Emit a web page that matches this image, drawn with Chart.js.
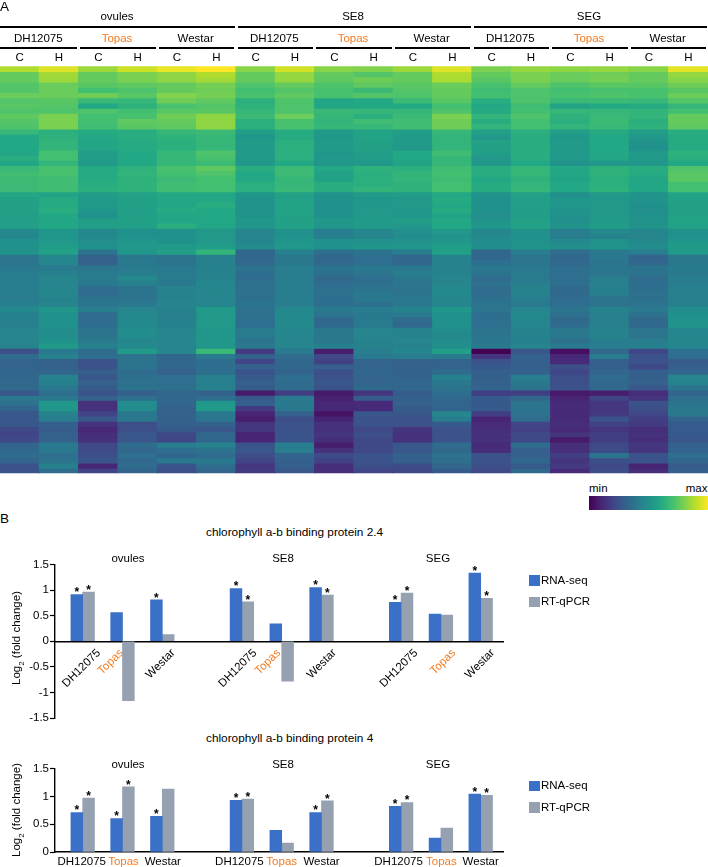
<!DOCTYPE html>
<html lang="en">
<head>
<meta charset="UTF-8" />
<title>Heatmap and fold change</title>
<script src="https://cdn.jsdelivr.net/npm/chart.js@4/dist/chart.umd.min.js"></script>
<style>
  html, body { margin: 0; padding: 0; background: #fff; }
  body { position: relative; width: 708px; height: 867px; overflow: hidden; font-family: "Liberation Sans", Arial, sans-serif; color: #000; }
  canvas { position: absolute; }
  .txt { position: absolute; white-space: nowrap; font-size: 11.5px; line-height: 1; }
  .rule { position: absolute; background: #000; height: 1.8px; }
  .swatch { position: absolute; width: 11px; height: 10.5px; }
  sub { font-size: 8px; line-height: 0; }
</style>
</head>
<body>
<canvas id="heat" style="left:0;top:0"></canvas>
<canvas id="bars1" style="left:0;top:556px"></canvas>
<canvas id="bars2" style="left:0;top:760px"></canvas>

<script>
const tissues = ["ovules", "SE8", "SEG"];
const cultivars = ["DH12075", "Topas", "Westar"];
const treatments = ["C", "H"];
const seriesNames = ["RNA-seq", "RT-qPCR"];
const titles = ["chlorophyll a-b binding protein 2.4", "chlorophyll a-b binding protein 4"];

// chlorophyll a-b binding protein 2.4, ovules / SE8 / SEG
const rnaSeq1 = [0.91, 0.56, 0.81, 1.03, 0.34, 1.05, 0.76, 0.53, 1.33];
const qpcr1 = [0.96, -1.16, 0.13, 0.77, -0.78, 0.90, 0.94, 0.51, 0.84];
const rnaStars1 = [1, 0, 1, 1, 0, 1, 1, 0, 1];
const qpcrStars1 = [1, 0, 0, 1, 0, 1, 1, 0, 1];

// chlorophyll a-b binding protein 4
const rnaSeq2 = [0.71, 0.60, 0.64, 0.93, 0.39, 0.71, 0.82, 0.25, 1.04];
const qpcr2 = [0.97, 1.17, 1.13, 0.95, 0.16, 0.92, 0.89, 0.43, 1.02];
const rnaStars2 = [1, 1, 1, 1, 0, 1, 1, 0, 1];
const qpcrStars2 = [1, 1, 0, 1, 0, 1, 1, 0, 1];

// heatmap, one row per gene, percent of the min-max range, same column order as the header
const heatRows = [
  [88,95,85,92,97,100,82,93,82,81,85,95,80,84,83,84,82,96],
  [76,86,76,80,83,88,76,84,76,73,76,88,76,80,77,78,76,84],
  [76,85,76,80,83,86,76,84,75,78,76,87,74,80,77,79,76,82],
  [73,77,74,75,76,79,72,76,72,75,74,77,71,76,72,74,74,78],
  [73,77,70,72,76,78,70,73,71,68,73,76,69,72,70,71,71,74],
  [77,77,78,74,81,79,71,75,71,73,72,76,70,72,71,72,71,77],
  [73,74,67,66,78,75,63,72,59,60,68,74,62,72,67,68,67,73],
  [74,73,60,64,71,73,64,72,59,60,60,70,60,69,58,60,61,66],
  [72,72,72,70,74,74,66,72,67,66,66,72,61,70,66,66,65,70],
  [75,80,70,71,78,83,68,77,66,63,68,80,65,72,64,67,65,76],
  [73,80,70,75,76,83,63,71,65,69,69,78,62,70,63,68,63,76],
  [72,80,69,74,75,83,63,71,66,66,69,78,65,70,65,67,64,75],
  [66,63,61,62,66,68,55,61,54,58,55,66,56,63,55,61,55,62],
  [60,64,60,62,64,66,52,61,53,58,54,65,53,62,53,60,53,61],
  [60,65,59,61,63,66,54,63,54,57,54,65,57,62,54,60,51,61],
  [60,65,59,61,63,66,54,63,54,57,53,65,57,62,54,60,50,61],
  [59,70,55,60,66,72,54,63,52,55,60,69,55,62,54,60,54,64],
  [62,70,55,60,66,71,53,63,53,55,60,66,53,62,53,59,53,63],
  [59,65,54,60,66,68,53,60,52,53,58,66,53,60,51,53,53,60],
  [67,71,61,64,71,75,62,68,60,64,63,69,62,66,60,64,62,72],
  [69,71,61,65,70,72,60,68,57,63,65,70,62,66,59,64,61,74],
  [68,69,61,64,68,70,60,66,57,63,65,69,60,64,58,63,59,74],
  [68,69,62,64,69,70,63,66,62,63,64,70,61,65,60,63,59,70],
  [68,69,63,64,69,70,63,67,62,65,64,70,61,66,60,64,60,70],
  [59,58,55,57,60,60,52,57,50,54,55,60,51,57,49,53,51,58],
  [57,61,54,57,60,60,51,57,50,52,53,61,50,56,52,53,51,57],
  [57,61,53,57,59,62,51,58,50,53,53,60,50,56,52,53,50,56],
  [57,62,52,56,61,60,51,58,50,53,52,61,50,56,51,53,49,56],
  [56,60,50,56,59,60,51,57,50,53,52,58,49,55,50,53,50,57],
  [56,59,55,57,59,60,52,57,53,54,55,60,51,57,49,54,51,58],
  [56,60,56,56,63,59,52,57,52,54,53,60,52,57,51,55,51,57],
  [47,52,47,50,50,53,45,50,42,46,49,53,46,50,42,47,46,50],
  [46,52,47,50,50,53,45,50,43,45,48,51,47,50,42,44,45,50],
  [50,53,49,52,50,53,46,52,50,50,51,52,48,50,47,50,47,52],
  [50,55,50,53,54,55,48,53,50,52,52,55,49,51,49,51,48,54],
  [51,57,38,52,56,65,33,43,36,38,42,56,33,42,35,40,42,54],
  [39,46,31,40,38,43,33,40,33,36,33,44,33,39,33,40,32,40],
  [39,46,31,41,38,43,34,40,34,36,33,44,36,39,34,39,33,40],
  [40,41,39,41,41,43,38,42,38,40,40,44,40,41,36,39,38,41],
  [42,43,41,42,41,44,36,42,37,39,42,44,38,41,36,39,38,41],
  [42,45,41,47,41,44,35,42,34,36,40,45,35,41,36,42,35,42],
  [42,45,41,43,41,46,37,42,35,36,39,45,37,42,36,43,36,42],
  [42,46,35,38,44,46,37,42,37,38,38,47,35,44,34,43,36,43],
  [42,46,35,38,44,46,37,42,37,40,38,47,35,44,34,42,37,43],
  [42,44,38,38,44,45,37,42,36,40,40,46,37,42,35,38,37,43],
  [43,45,39,41,45,46,38,42,36,37,40,46,38,41,36,38,38,43],
  [47,52,42,45,44,54,37,47,41,42,44,52,39,45,39,44,41,48],
  [43,50,35,47,43,53,37,47,38,41,41,50,36,47,37,43,37,50],
  [43,50,35,47,43,53,36,47,33,41,35,50,36,46,34,43,34,51],
  [43,50,36,47,43,53,36,47,34,41,34,50,36,46,35,43,34,51],
  [45,48,38,48,46,52,41,46,40,45,44,48,38,44,40,44,39,46],
  [45,49,38,48,45,52,41,46,40,45,44,47,39,44,40,44,38,46],
  [45,50,41,46,46,53,38,45,40,44,45,48,39,43,37,42,42,46],
  [44,54,44,47,45,52,40,45,43,44,44,49,41,45,41,42,43,46],
  [24,41,35,54,46,67,17,41,8,42,46,56,0,27,4,34,21,36],
  [35,44,36,38,33,41,31,35,22,41,42,41,15,31,11,42,25,36],
  [32,31,26,38,33,36,21,33,19,32,31,32,25,30,12,30,25,29],
  [32,31,26,38,33,36,31,33,30,32,31,32,28,30,24,30,22,30],
  [33,33,30,35,31,36,26,32,24,33,32,35,30,31,21,33,30,33],
  [33,44,27,36,36,43,28,36,25,32,32,43,30,42,24,35,30,45],
  [34,43,31,37,36,43,30,35,27,32,33,40,31,40,24,34,31,44],
  [34,40,29,38,37,43,29,35,26,34,33,38,32,38,25,34,27,39],
  [27,36,26,30,33,31,7,18,7,15,29,36,18,18,7,8,13,32],
  [40,40,31,37,33,36,28,41,9,29,30,34,28,33,10,20,15,36],
  [37,52,14,48,33,52,30,41,11,12,31,32,28,38,12,16,25,38],
  [32,52,14,48,31,54,17,40,11,12,29,32,28,38,12,16,24,40],
  [27,44,20,40,31,40,10,31,5,27,27,46,18,37,12,17,21,40],
  [27,42,27,40,31,39,8,24,10,26,26,42,10,35,12,26,18,32],
  [27,30,14,24,30,31,15,25,14,25,25,28,12,20,13,19,17,28],
  [22,29,11,24,28,27,16,25,14,22,15,25,13,19,12,16,13,28],
  [20,31,13,27,22,33,10,26,15,24,14,25,14,22,15,18,14,28],
  [22,31,14,27,21,33,10,26,13,22,14,25,14,22,7,18,13,27],
  [32,41,22,35,42,44,26,42,8,22,27,35,12,35,13,22,16,30],
  [33,40,23,33,36,38,27,42,14,22,27,34,13,30,13,23,15,32],
  [35,36,24,36,33,35,24,32,23,26,31,37,26,31,18,38,26,36],
  [32,38,26,34,40,40,20,30,19,26,30,36,25,33,15,24,25,33],
  [26,43,11,35,26,36,16,30,13,24,23,33,24,28,17,22,10,29],
  [26,35,20,32,24,32,17,27,13,20,22,28,22,34,12,24,13,30]
];

const viridis = ["#440154","#482475","#414487","#355f8d","#2a788e","#21918c","#22a884","#43bf71","#7ad151","#bddf26","#fde725"];
const blue = "#3a70c8";
const grey = "#95a0b0";
const orange = "#f47b20";

Chart.defaults.font.family = '"Liberation Sans", Arial, sans-serif';
Chart.defaults.font.size = 11.5;
Chart.defaults.color = "#000";
Chart.defaults.animation = false;
Chart.defaults.responsive = false;
Chart.defaults.plugins.legend.display = false;
Chart.defaults.plugins.tooltip.enabled = false;

function labelColor(name) {
  return name === "Topas" ? orange : "#000";
}

function text(html, x, y, opts = {}) {
  const el = document.createElement("div");
  el.className = "txt";
  el.innerHTML = html;
  el.style.left = x + "px";
  el.style.top = y + "px";
  if (opts.color) el.style.color = opts.color;
  if (opts.size) el.style.fontSize = opts.size + "px";
  const shift = opts.align === "left" ? "0" : opts.align === "right" ? "-100%" : "-50%";
  el.style.transform = `translate(${shift}, -50%)` + (opts.rotate ? ` rotate(${opts.rotate}deg)` : "");
  document.body.appendChild(el);
}

function rule(x1, x2, y) {
  const el = document.createElement("div");
  el.className = "rule";
  el.style.left = x1 + "px";
  el.style.width = (x2 - x1) + "px";
  el.style.top = y + "px";
  document.body.appendChild(el);
}

function viridisColor(pct) {
  const t = pct / 100 * (viridis.length - 1);
  const i = Math.min(Math.floor(t), viridis.length - 2);
  const f = t - i;
  const a = viridis[i], b = viridis[i + 1];
  const ch = (s, p) => parseInt(s.substr(p, 2), 16);
  const mix = p => Math.round(ch(a, p) + (ch(b, p) - ch(a, p)) * f);
  return `rgb(${mix(1)},${mix(3)},${mix(5)})`;
}

// ---- panel A ----
const heatLabels = [];
tissues.forEach(() => cultivars.forEach(() => treatments.forEach(t => heatLabels.push(t))));
const colW = 708 / heatLabels.length;

const heatCanvas = document.getElementById("heat");
heatCanvas.width = 708;
heatCanvas.height = 474;

new Chart(heatCanvas, {
  type: "bar",
  data: {
    labels: heatLabels,
    datasets: heatRows.map(row => ({
      data: row.map(() => 1),
      backgroundColor: row.map(viridisColor),
      borderWidth: 0,
      barPercentage: 1,
      categoryPercentage: 1,
      inflateAmount: 0.6
    }))
  },
  options: {
    layout: { padding: { top: 50, bottom: 0.7, left: 0, right: 0 } },
    scales: {
      x: {
        position: "top",
        stacked: true,
        grid: { display: false, drawTicks: false },
        border: { display: false },
        ticks: { padding: 1.6, maxRotation: 0, autoSkip: false },
        afterFit: s => { s.height = 16.3; }
      },
      y: { display: false, stacked: true, reverse: true, min: 0, max: heatRows.length }
    }
  }
});

text("A", 0, 6.5, { align: "left", size: 13.5 });
tissues.forEach((tissue, t) => {
  const start = t * 6 * colW;
  text(tissue, start + 3 * colW - 1, 16.5);
  rule(start + (t ? 1.5 : 0), start + 6 * colW - 1, 26.2);
  cultivars.forEach((name, c) => {
    const left = start + c * 2 * colW;
    text(name, left + colW - 1, 38.5, { color: labelColor(name) });
    rule(left + (t || c ? 1.5 : 0), left + 2 * colW - 1.5, 47.2);
  });
});

// colour scale
const scaleBar = document.createElement("div");
scaleBar.style.cssText = "position:absolute;left:589px;top:496px;width:119px;height:13.5px;background:linear-gradient(to right," + viridis.join(",") + ")";
document.body.appendChild(scaleBar);
text("min", 589, 488.5, { align: "left" });
text("max", 707.5, 488.5, { align: "right" });

// ---- panel B ----
text("B", 0, 518.5, { align: "left", size: 13.5 });

const slots = [];
tissues.forEach((t, i) => cultivars.forEach((c, j) => slots.push(i * 4 + j + 1)));
const slotLabels = [];
tissues.forEach(() => cultivars.forEach(c => slotLabels.push(c)));

const starPlugin = {
  id: "stars",
  afterDatasetsDraw(chart) {
    const { ctx } = chart;
    ctx.save();
    ctx.fillStyle = "#000";
    ctx.font = 'bold 12px "Liberation Sans", Arial, sans-serif';
    ctx.textAlign = "center";
    ctx.textBaseline = "alphabetic";
    chart.data.datasets.forEach((ds, i) => {
      chart.getDatasetMeta(i).data.forEach((bar, k) => {
        if (ds.stars[k]) ctx.fillText("*", bar.x, bar.y + 1.8);
      });
    });
    ctx.restore();
  }
};

function barChart(id, height, yMin, padBottom, rna, qpcr, rnaStars, qpcrStars, rotate, labelShift) {
  const canvas = document.getElementById(id);
  canvas.width = 520;
  canvas.height = height;
  const toPoints = vals => vals.map((v, i) => ({ x: slots[i], y: v }));
  return new Chart(canvas, {
    type: "bar",
    plugins: [starPlugin],
    data: {
      datasets: [
        { label: seriesNames[0], data: toPoints(rna), backgroundColor: blue, stars: rnaStars, barThickness: 11.8 },
        { label: seriesNames[1], data: toPoints(qpcr), backgroundColor: grey, stars: qpcrStars, barThickness: 11.8 }
      ]
    },
    options: {
      layout: { padding: { top: 8.5, bottom: padBottom, left: 0, right: 17 } },
      scales: {
        x: {
          type: "linear",
          offset: false,
          min: 0.304,
          max: 11.56,
          position: { y: 0 },
          grid: { display: false, drawTicks: false, offset: false },
          border: { color: "#000", width: 1.4 },
          afterBuildTicks: s => { s.ticks = slots.map((v, i) => ({ value: v + labelShift[i] / 39.8 })); },
          ticks: {
            autoSkip: false,
            minRotation: rotate,
            maxRotation: rotate,
            padding: rotate ? 5 : 3,
            callback: (v, i) => slotLabels[i],
            color: ctx => labelColor(slotLabels[ctx.index])
          }
        },
        y: {
          min: yMin,
          max: 1.5,
          grid: { drawOnChartArea: false, tickLength: 5, tickColor: "#000", tickWidth: 1.2 },
          border: { color: "#000", width: 1.4 },
          ticks: { stepSize: 0.5, padding: 1, callback: v => String(v) },
          afterFit: s => { s.width = 55; }
        }
      }
    }
  });
}

barChart("bars1", 170, -1.5, 8, rnaSeq1, qpcr1, rnaStars1, qpcrStars1, 45, [16, -1, 11, 13, -3, 13, 15, 13, 12]);
barChart("bars2", 107, 0, 15, rnaSeq2, qpcr2, rnaStars2, qpcrStars2, 0, [-1, 1, 0.5, -2.5, 0, 0, -2.5, 0.5, 0]);

[[533, 559, 638, 580.5, 602], [739, 765, 810, 786, 807.5]].forEach((pos, n) => {
  text(titles[n], 206, pos[0], { align: "left", size: 11.8 });
  tissues.forEach((tissue, i) => text(tissue, 128 + i * 155, pos[1]));
  text("Log<sub>2</sub> (fold change)", 17, pos[2], { rotate: -90 });
  seriesNames.forEach((name, i) => {
    const box = document.createElement("div");
    box.className = "swatch";
    box.style.left = "529px";
    box.style.top = (pos[3 + i] - 5.2) + "px";
    box.style.background = i ? grey : blue;
    document.body.appendChild(box);
    text(name, 541, pos[3 + i], { align: "left" });
  });
});
</script>
</body>
</html>
